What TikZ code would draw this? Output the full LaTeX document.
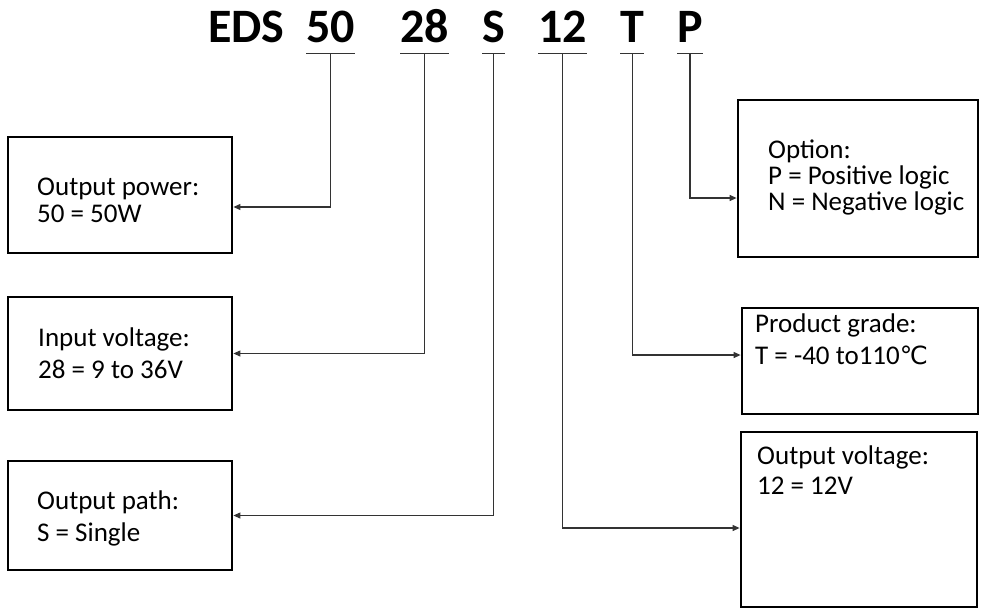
\documentclass[tikz,border=0pt]{standalone}
\usepackage{fontspec}
\setmainfont{Carlito}
\newfontfamily\symfont{DejaVu Sans}
\usetikzlibrary{arrows.meta,calc}

\tikzset{
	code/.style={font=\bfseries\fontsize{48}{58}\selectfont, anchor=base west, inner sep=0pt},
	infobox/.style={draw, line width=2.8pt, inner sep=0pt},
	infotext/.style={font=\fontsize{27}{32}\selectfont, anchor=north west, align=left, inner sep=0pt},
	link/.style={line width=1.1pt, draw=black!80, -{Triangle[length=7pt,width=6pt]}},
}

\begin{document}
\begin{tikzpicture}[x=1pt, y=-1pt]
			%%%%% START %%%%%
			\useasboundingbox (0,0) rectangle (981,610);
			
			% model code
			\node[code] (eds) at (208,43) {EDS};
			\node[code] (c50) at (306,43) {50};
			\node[code] (c28) at (400,43) {28};
			\node[code] (cS) at (482,43) {S};
			\node[code] (c12) at (538,43) {12};
			\node[code] (cT) at (620,43) {T};
			\node[code] (cP) at (677,43) {P};
			
			\foreach \c in {c50,c28,cS,c12,cT,cP}
				\draw[line width=1.1pt, black!80] ([yshift=-10pt]\c.south west) -- ([yshift=-10pt]\c.south east);
			
			% boxes
			\node[infobox, minimum width=224, minimum height=116] (power) at (120,195) {};
			\node[infobox, minimum width=224, minimum height=113] (input) at (120,353.5) {};
			\node[infobox, minimum width=224, minimum height=109] (outpath) at (120,515.5) {};
			\node[infobox, minimum width=240, minimum height=157] (option) at (858,178.5) {};
			\node[infobox, minimum width=236, minimum height=106] (grade) at (860,361) {};
			\node[infobox, minimum width=236, minimum height=175] (outv) at (859,519.5) {};
			
			\node[infotext, font=\fontsize{27}{27}\selectfont] (powertxt) at (37,178) {Output power:\\50 = 50W};
			\node[infotext] (inputtxt) at (38,328) {Input voltage:\\28 = 9 to 36V};
			\node[infotext] (pathtxt) at (37,491) {Output path:\\S = Single};
			\node[infotext, font=\fontsize{27}{26}\selectfont] (optiontxt) at (768,140) {Option:\\P = Positive logic\\N = Negative logic};
			\node[infotext] (gradetxt) at (755,314) {Product grade:\\T = -40 to110{\symfont\fontsize{25}{25}\selectfont ℃}};
			\node[infotext, font=\fontsize{27}{30}\selectfont] (outvtxt) at (757,446) {Output voltage:\\12 = 12V};
			
			% links
			\draw[link] ([yshift=-10pt]c50.south) |- ([yshift=-12pt]power.east);
			\draw[link] ([yshift=-10pt]c28.south) |- (input.east);
			\draw[link] ([yshift=-10pt]cS.south) |- (outpath.east);
			\draw[link] ([yshift=-10pt]cP.south) |- ([yshift=-19.5pt]option.west);
			\draw[link] ([yshift=-10pt]cT.south) |- ([yshift=6pt]grade.west);
			\draw[link] ([yshift=-10pt]c12.south) |- ([yshift=-8.5pt]outv.west);
			
			%%%%% END %%%%%
\end{tikzpicture}
\end{document}
